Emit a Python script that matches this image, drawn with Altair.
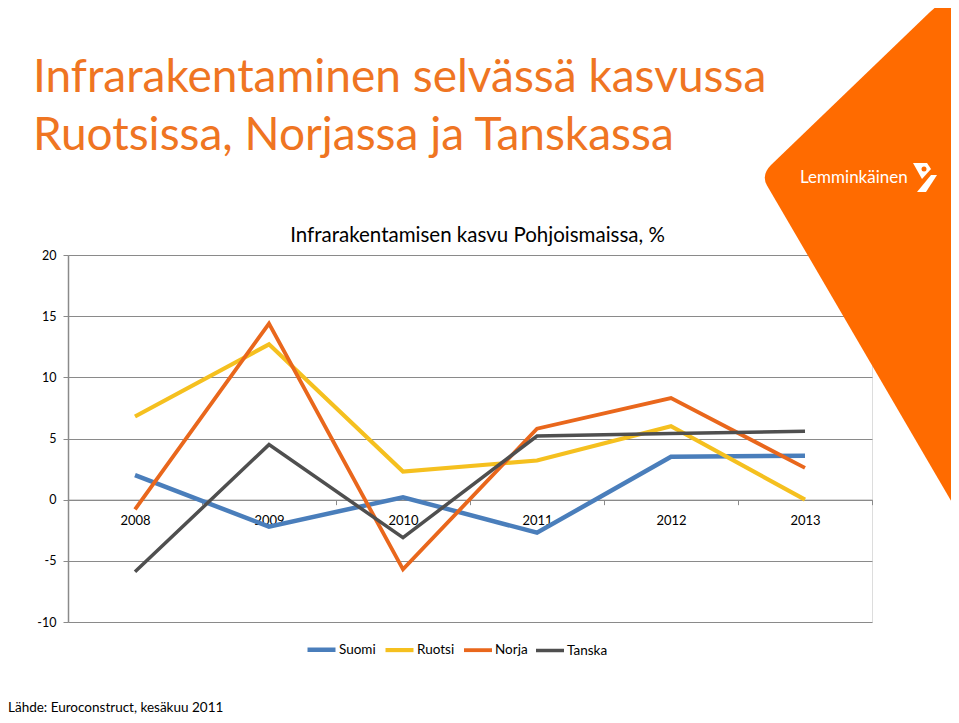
import altair as alt
import pandas as pd

# ---- data ----
years = ["2008", "2009", "2010", "2011", "2012", "2013"]
series_names = ["Suomi", "Ruotsi", "Norja", "Tanska"]
suomi = [2.0, -2.2, 0.2, -2.7, 3.5, 3.6]
ruotsi = [6.8, 12.7, 2.3, 3.2, 6.0, 0.0]
norja = [-0.8, 14.4, -5.7, 5.8, 8.3, 2.6]
tanska = [-5.9, 4.5, -3.1, 5.2, 5.4, 5.6]
y_ticks = [-10, -5, 0, 5, 10, 15, 20]

title_line1 = "Infrarakentaminen selvässä kasvussa"
title_line2 = "Ruotsissa, Norjassa ja Tanskassa"
chart_title = "Infrarakentamisen kasvu Pohjoismaissa, %"
source_text = "Lähde: Euroconstruct, kesäkuu 2011"
logo_text = "Lemminkäinen"

colors = ["#4A7EBB", "#F5C01F", "#E9671C", "#4F4F4F"]
widths = [4.5, 3.5, 3.5, 3.5]

rows = []
for name, vals in zip(series_names, [suomi, ruotsi, norja, tanska]):
    for yr, v in zip(years, vals):
        rows.append({"year": yr, "series": name, "value": v})
df = pd.DataFrame(rows)

W, H = 804, 367
Y_MIN, Y_MAX = -10, 20
zero_px = H * (Y_MAX - 0) / (Y_MAX - Y_MIN)
axis_offset = -(H - zero_px)

GRID = "#8A8A8A"
FONT = "Lato"
ORANGE_TXT = "#EF7522"
ORANGE_BG = "#FF6B00"

lines = alt.Chart(df).mark_line().encode(
    x=alt.X("year:O", sort=years,
            scale=alt.Scale(type="band", paddingInner=0, paddingOuter=0),
            axis=alt.Axis(title=None, labelAngle=0, tickBand="extent",
                          offset=axis_offset, domainColor=GRID, tickColor=GRID,
                          tickSize=5, labelPadding=10, labelFontSize=13,
                          labelColor="#000000", grid=False, labelFont=FONT)),
    y=alt.Y("value:Q", scale=alt.Scale(domain=[Y_MIN, Y_MAX], nice=False, zero=False),
            axis=alt.Axis(title=None, values=y_ticks, grid=True, gridColor=GRID,
                          gridWidth=1, domainColor=GRID, domainWidth=1.5,
                          tickColor=GRID, tickSize=5, labelPadding=7,
                          labelExpr="'' + datum.value",
                          labelFontSize=12.5, labelColor="#000000", labelFont=FONT)),
    color=alt.Color("series:N", sort=series_names,
                    scale=alt.Scale(domain=series_names, range=colors),
                    legend=alt.Legend(title=None, orient="none", legendX=237, legendY=378,
                                      direction="horizontal", symbolType="stroke",
                                      symbolSize=784, symbolStrokeWidth=3.5,
                                      labelFontSize=13.5, labelOffset=1, columnPadding=1,
                                      labelFont=FONT, labelColor="#000000")),
    strokeWidth=alt.StrokeWidth("series:N",
                                scale=alt.Scale(domain=series_names, range=widths),
                                legend=None),
    order=alt.Order("year:O"),
)

one = pd.DataFrame({"k": [0]})

# decorative orange corner shape (pixel offsets from plot origin)
bg_path = ("M703,-90 L862,-243 Q874.5,-255 887,-255 L907,-255 L907,287 "
           "L699,-69.6 Q693,-80 703,-90 Z")
bg = alt.Chart(one).mark_point(shape=bg_path, filled=True, color=ORANGE_BG,
                               opacity=1, size=4).encode(
    x=alt.value(0), y=alt.value(0))

icon_upper = "M845,-92 L859,-92 L863,-86 L854,-76 Z"
icon_lower = "M863,-80 L869,-80 L858,-63 L849,-63 Z"
icon1 = alt.Chart(one).mark_point(shape=icon_upper, filled=True, color="#FFFFFF",
                                  opacity=1, size=4).encode(x=alt.value(0), y=alt.value(0))
icon2 = alt.Chart(one).mark_point(shape=icon_lower, filled=True, color="#FFFFFF",
                                  opacity=1, size=4).encode(x=alt.value(0), y=alt.value(0))
icon_dot = alt.Chart(one).mark_point(shape="circle", filled=True, color=ORANGE_BG,
                                     opacity=1, size=25).encode(x=alt.value(856), y=alt.value(-86))


def text_layer(txt, x, y, size, color, align="left", weight="normal"):
    return alt.Chart(one).mark_text(text=txt, align=align, baseline="alphabetic",
                                    font=FONT, fontSize=size, color=color,
                                    fontWeight=weight).encode(
        x=alt.value(x), y=alt.value(y))


t1 = text_layer(title_line1, -35, -163, 46, ORANGE_TXT)
t2 = text_layer(title_line2, -35, -105, 46, ORANGE_TXT)
t3 = text_layer(chart_title, 409.5, -13, 20.5, "#000000", align="center")
t4 = text_layer(source_text, -60, 457, 13.5, "#000000")
t5 = text_layer(logo_text, 732, -72, 17, "#FFFFFF")

chart = alt.layer(lines, bg, icon1, icon2, icon_dot, t1, t2, t3, t4, t5).properties(
    width=W, height=H,
    padding={"left": 60, "top": 247, "right": 79, "bottom": 93},
    autosize=alt.AutoSizeParams(type="none"),
).configure_view(strokeWidth=0).configure(font=FONT)

chart.save("out.html", embed_options={"renderer": "svg", "actions": False})
